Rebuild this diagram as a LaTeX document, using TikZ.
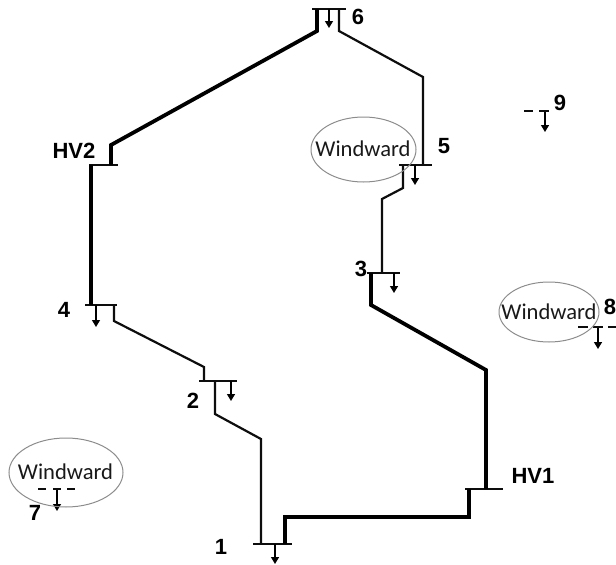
\documentclass[tikz,border=0pt]{standalone}
\usepackage{fontspec}
\setmainfont{Liberation Sans}
\newfontfamily\windfont{Carlito}
\usetikzlibrary{arrows.meta}
\tikzset{
  busbar/.style={line width=2.1pt,draw=black!95},
  dashbus/.style={line width=2pt,draw=black!95},
  thinline/.style={line width=2.2pt,draw=black!95,line join=miter},
  thickline/.style={line width=3.8pt,draw=black,line join=miter},
  loadarrow/.style={line width=1.4pt,draw=black,-{Triangle[length=7pt,width=8pt]}},
  busnum/.style={font=\bfseries\fontsize{22}{24}\selectfont,inner sep=0pt,text=black},
  windlabel/.style={font=\windfont\fontsize{22.6}{24}\selectfont,inner sep=0pt,text=black!90},
  windring/.style={draw=black!45,line width=1pt}
}
\begin{document}
\begin{tikzpicture}[x=1pt,y=-1pt]
\useasboundingbox (0,0) rectangle (616,565);
% bus bar end points
\foreach \n/\xa/\xb/\y in {b6/312/346/9,b5/399/432/165,b3/367/400/273,bHV2/89/118/165,b4/85/117/305,b2/199/237/381,b1/253/292/544,bHV1/465/503/489}{
  \coordinate (\n l) at (\xa,\y);
  \coordinate (\n r) at (\xb,\y);
  \draw[busbar] (\n l) -- (\n r);
}
% taps and bends
\coordinate (t6a) at (317,9);   \coordinate (k6a) at (317,31);
\coordinate (kHa) at (111,145); \coordinate (tHa) at (111,165);
\coordinate (tHb) at (91,165);  \coordinate (t4a) at (91,305);
\coordinate (t4b) at (114,305); \coordinate (k4) at (114,321);
\coordinate (k2a) at (204,367); \coordinate (t2a) at (204,381);
\coordinate (t2b) at (215,381); \coordinate (k2b) at (215,414);
\coordinate (k1) at (261,439);  \coordinate (t1a) at (261,544);
\coordinate (t1b) at (285,544); \coordinate (k1b) at (285,517);
\coordinate (kVa) at (469,517); \coordinate (tVa) at (469,489);
\coordinate (tVb) at (486,489); \coordinate (kVb) at (486,370);
\coordinate (k3a) at (371,305); \coordinate (t3a) at (371,273);
\coordinate (t3b) at (382,273); \coordinate (k3b) at (382,199);
\coordinate (k5a) at (403,188); \coordinate (t5a) at (403,165);
\coordinate (t5b) at (423,165); \coordinate (k5b) at (423,77);
\coordinate (k6b) at (339,31);  \coordinate (t6b) at (339,9);
% lines
\draw[thickline] (t6a) -- (k6a) -- (kHa) -- (tHa);
\draw[thickline] (tHb) -- (t4a);
\draw[thinline] (t4b) -- (k4) -- (k2a) -- (t2a);
\draw[thinline] (t2b) -- (k2b) -- (k1) -- (t1a);
\draw[thickline] (t1b) -- (k1b) -- (kVa) -- (tVa);
\draw[thickline] (tVb) -- (kVb) -- (k3a) -- (t3a);
\draw[thinline] (t3b) -- (k3b) -- (k5a) -- (t5a);
\draw[thinline] (t5b) -- (k5b) -- (k6b) -- (t6b);
% loads
\foreach \n/\x/\ya/\yb in {l6/329/9/28,l5/415/165/185,l3/394/273/293,l4/96/305/327,l2/231/381/401,l1/275/544/564,l9/545/111/132,l8/598/327/349,l7/57/489/511}{
  \coordinate (\n a) at (\x,\ya);
  \coordinate (\n b) at (\x,\yb);
  \draw[loadarrow] (\n a) -- (\n b);
}
% dashed candidate buses
\foreach \n/\xa/\xb/\y in {d9a/524/533/111,d9b/539/549/111,d8a/578/588/327,d8b/593/603/327,d8c/608/616/327,d7a/38/46/489,d7b/53/61/489,d7c/67/75/489}{
  \coordinate (\n l) at (\xa,\y);
  \coordinate (\n r) at (\xb,\y);
  \draw[dashbus] (\n l) -- (\n r);
}
% wind farms
\draw[windring] (363.5,149.5) ellipse [x radius=52.5,y radius=32.5];
\draw[windring] (549,312) ellipse [x radius=50,y radius=30];
\draw[windring] (66,472.5) ellipse [x radius=57,y radius=34.5];
\node[windlabel] (w5) at (363,149) {Windward};
\node[windlabel] (w8) at (549,312) {Windward};
\node[windlabel] (w7) at (65.5,472) {Windward};
% labels
\node[busnum] (n6) at (358,17) {6};
\node[busnum] (n5) at (444,146) {5};
\node[busnum] (n9) at (560,103) {9};
\node[busnum] (n8) at (610,307) {8};
\node[busnum] (n3) at (361,269) {3};
\node[busnum] (n4) at (64,310) {4};
\node[busnum] (n2) at (193,401) {2};
\node[busnum] (n1) at (221,547) {1};
\node[busnum] (n7) at (35,513) {7};
\node[busnum] (nH2) at (74,151) {HV2};
\node[busnum] (nH1) at (533,476) {HV1};
\end{tikzpicture}
\end{document}
